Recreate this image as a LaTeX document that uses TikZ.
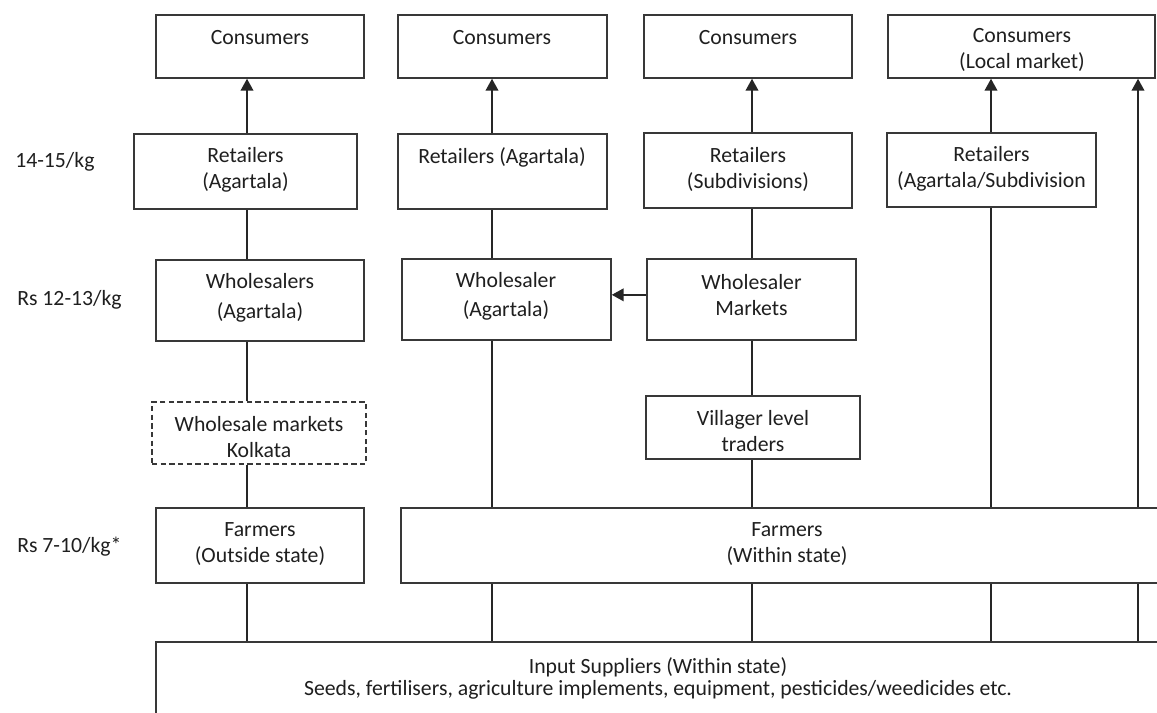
\documentclass[tikz,border=0pt]{standalone}
\usepackage{fontspec}
\setmainfont{Carlito}
\usetikzlibrary{arrows.meta,fit}
\begin{document}
\begin{tikzpicture}[x=0.75pt,y=-0.75pt,
  box/.style={draw=black!78, line width=1.1pt, rectangle, inner sep=0pt, fill=white},
  dbox/.style={box, dash pattern=on 4pt off 2.5pt},
  txt/.style={text=black!88, font=\fontsize{16.3pt}{19.5pt}\selectfont, align=center, inner sep=0pt},
  conn/.style={draw=black!85, line width=1.4pt},
  arr/.style={conn, -{Triangle[length=9pt,width=9.5pt]}},
]
\useasboundingbox (0,0) rectangle (1157,713);
\clip (0,0) rectangle (1157,713);
\fill[white] (0,0) rectangle (1157,713);

% column coordinates
\coordinate (X1) at (247,0);
\coordinate (X2) at (492,0);
\coordinate (X3) at (752,0);
\coordinate (X4) at (991,0);
\coordinate (X5) at (1138,0);

% boxes
\node[box, fit={(156,15) (364,78)}] (c1) {};
\node[box, fit={(398,15) (607,78)}] (c2) {};
\node[box, fit={(644,15) (852,78)}] (c3) {};
\node[box, fit={(888,15) (1155,78)}] (c4) {};
\node[box, fit={(134,134) (357,209)}] (r1) {};
\node[box, fit={(398,134) (607,209)}] (r2) {};
\node[box, fit={(644,133) (852,208)}] (r3) {};
\node[box, fit={(887,133) (1096,207)}] (r4) {};
\node[box, fit={(156,260) (364,341)}] (w1) {};
\node[box, fit={(402,259) (611,340)}] (w2) {};
\node[box, fit={(647,259) (856,340)}] (w3) {};
\node[dbox, fit={(152,402) (366,464)}] (k) {};
\node[box, fit={(646,396) (860,459)}] (v) {};
\node[box, fit={(156,508) (364,583)}] (f1) {};
\node[box, fit={(401,508) (1175,583)}] (f2) {};
\node[box, fit={(156,642) (1164,760)}] (inp) {};

% texts
\node[txt] (c1t) at (260,38) {Consumers};
\node[txt] (c2t) at (502,38) {Consumers};
\node[txt] (c3t) at (748,38) {Consumers};
\node[txt] (c4t) at (1022,50) {Consumers\\(Local market)};
\node[txt] (r1t) at (245.5,170) {Retailers\\(Agartala)};
\node[txt] (r2t) at (502,157) {Retailers (Agartala)};
\node[txt] (r3t) at (748,169) {Retailers\\(Subdivisions)};
\node[txt] (r4t) at (991.5,169) {Retailers\\(Agartala/Subdivision};
\node[txt] (w1t) at (260,298) {Wholesalers\\[3pt](Agartala)};
\node[txt] (w2t) at (506,296.5) {Wholesaler\\[2pt](Agartala)};
\node[txt] (w3t) at (751.5,295) {Wholesaler\\Markets};
\node[txt] (kt) at (259,437) {Wholesale markets\\Kolkata};
\node[txt] (vt) at (753,431) {Villager level\\traders};
\node[txt] (f1t) at (260,544) {Farmers\\(Outside state)};
\node[txt] (f2t) at (787,544) {Farmers\\(Within state)};
\node[txt, font=\fontsize{16.3pt}{16.5pt}\selectfont] (inpt) at (658,678) {Input Suppliers (Within state)\\Seeds, fertilisers, agriculture implements, equipment, pesticides/weedicides etc.};

% price labels
\node[txt, anchor=west] (p1) at (15,162) {14-15/kg};
\node[txt, anchor=west] (p2) at (17,300) {Rs 12-13/kg};
\node[txt, anchor=west] (p3) at (17,547) {Rs 7-10/kg*};

% column 1
\draw[arr] (r1.north -| X1) -- (c1.south -| X1);
\draw[conn] (w1.north -| X1) -- (r1.south -| X1);
\draw[conn] (k.north -| X1) -- (w1.south -| X1);
\draw[conn] (f1.north -| X1) -- (k.south -| X1);
\draw[conn] (inp.north -| X1) -- (f1.south -| X1);
% column 2
\draw[arr] (r2.north -| X2) -- (c2.south -| X2);
\draw[conn] (w2.north -| X2) -- (r2.south -| X2);
\draw[conn] (f2.north -| X2) -- (w2.south -| X2);
\draw[conn] (inp.north -| X2) -- (f2.south -| X2);
% column 3
\draw[arr] (r3.north -| X3) -- (c3.south -| X3);
\draw[conn] (w3.north -| X3) -- (r3.south -| X3);
\draw[conn] (v.north -| X3) -- (w3.south -| X3);
\draw[conn] (f2.north -| X3) -- (v.south -| X3);
\draw[conn] (inp.north -| X3) -- (f2.south -| X3);
\draw[arr] ([yshift=3.5pt]w3.west) -- ([yshift=3.5pt]w2.east);
% column 4
\draw[arr] (r4.north -| X4) -- (c4.south -| X4);
\draw[conn] (f2.north -| X4) -- (r4.south -| X4);
\draw[conn] (inp.north -| X4) -- (f2.south -| X4);
% column 5
\draw[arr] (f2.north -| X5) -- (c4.south -| X5);
\draw[conn] (inp.north -| X5) -- (f2.south -| X5);
\end{tikzpicture}
\end{document}
